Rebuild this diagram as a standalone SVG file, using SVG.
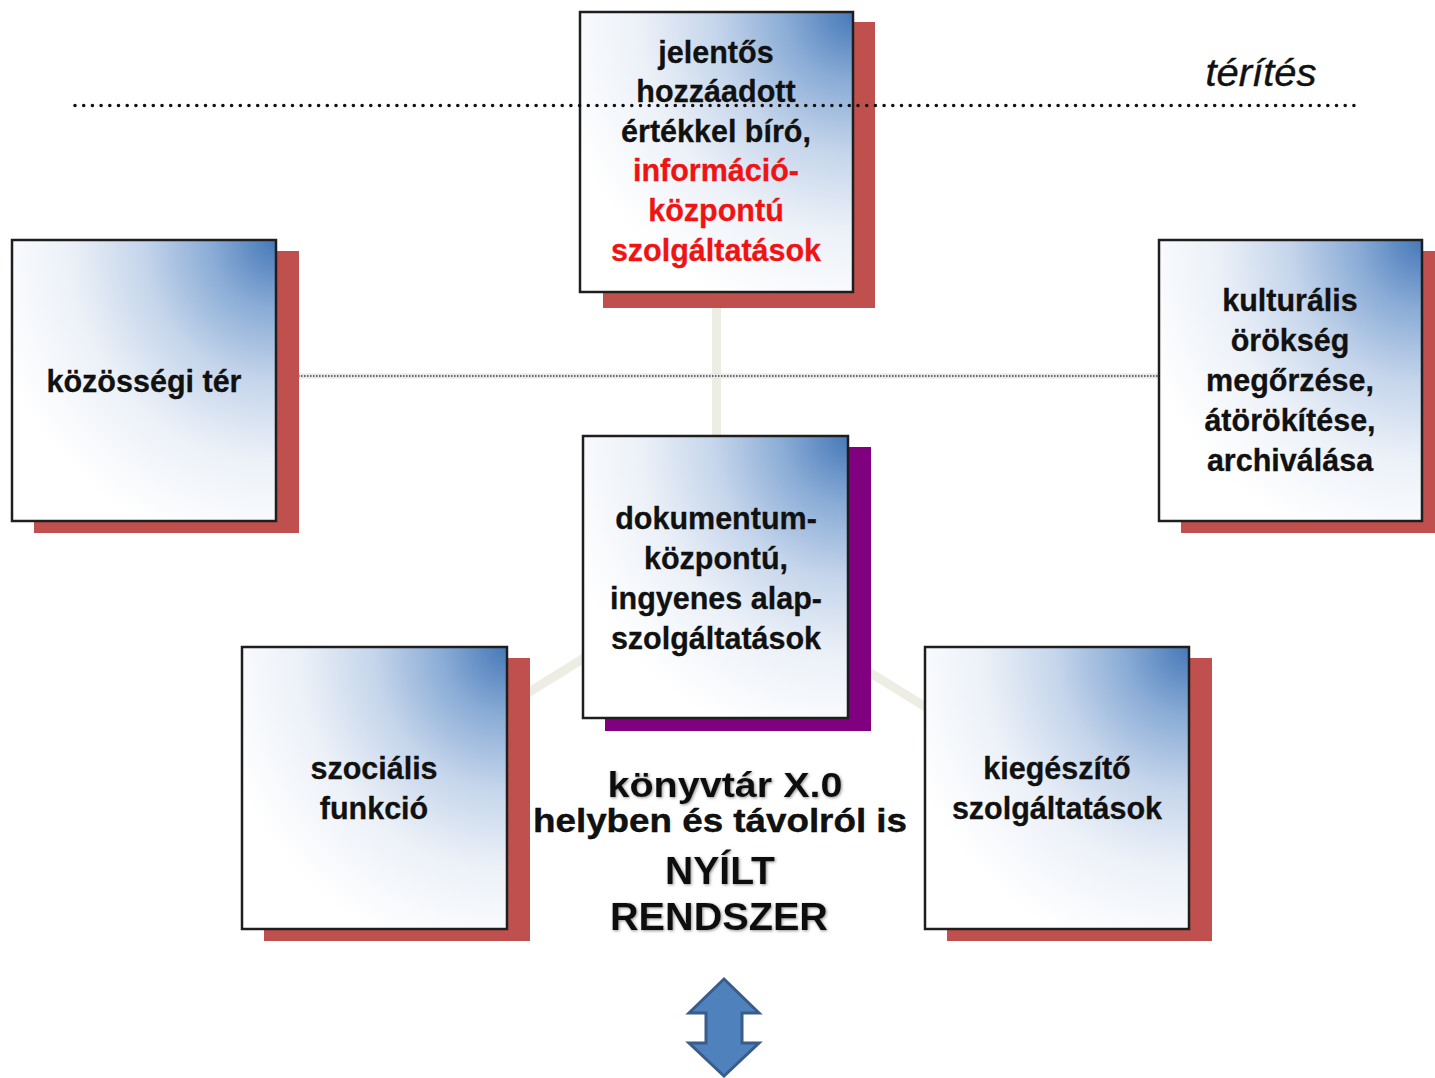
<svg xmlns="http://www.w3.org/2000/svg" width="1435" height="1078" viewBox="0 0 1435 1078">
<defs>
<radialGradient id="bg" cx="1" cy="0" r="1.12" fx="1" fy="0">
<stop offset="0" stop-color="#4678b8"/>
<stop offset="0.22" stop-color="#8aacd6"/>
<stop offset="0.45" stop-color="#c5d5eb"/>
<stop offset="0.7" stop-color="#ecf1f8"/>
<stop offset="1" stop-color="#ffffff"/>
</radialGradient>
<filter id="soft" x="-10%" y="-30%" width="120%" height="160%">
<feGaussianBlur in="SourceAlpha" stdDeviation="1.6" result="b"/>
<feOffset dx="1" dy="1" result="o"/>
<feFlood flood-color="#666" flood-opacity="0.7"/>
<feComposite in2="o" operator="in" result="s"/>
<feMerge><feMergeNode in="s"/><feMergeNode in="SourceGraphic"/></feMerge>
</filter>
</defs>
<style>
.box{fill:url(#bg);stroke:#1e1e1e;stroke-width:2.5}
.red{fill:#c0504d}
.pur{fill:#800080}
.t{font-family:"Liberation Sans",Arial,sans-serif;font-weight:bold;font-size:30.5px;fill:#111;text-anchor:middle;stroke:#111;stroke-width:0.3}
.r{fill:#ee1414;stroke:#ee1414}
.big{font-family:"Liberation Sans",Arial,sans-serif;font-weight:bold;fill:#111;text-anchor:middle}
.conn{stroke:#eeede3;stroke-width:9;fill:none}
</style>
<rect width="1435" height="1078" fill="#ffffff"/>
<g id="connectors">
<line class="conn" x1="716.5" y1="152" x2="716.5" y2="577"/>
<line class="conn" x1="715" y1="577" x2="374" y2="788"/>
<line class="conn" x1="715" y1="577" x2="1057" y2="788"/>
<line x1="298" y1="376" x2="1159" y2="376" stroke="#e6e6e6" stroke-width="5"/>
<line x1="298" y1="376" x2="1159" y2="376" stroke="#6a6a6a" stroke-width="2" stroke-dasharray="1.5 1.5"/>
</g>
<g id="node-top">
<rect class="red" x="603" y="22" width="272" height="286"/>
<rect class="box" x="580" y="12" width="273" height="280"/>
<text class="t" x="716" y="63">jelentős</text>
<text class="t" x="716" y="102">hozzáadott</text>
<text class="t" x="716" y="142">értékkel bíró,</text>
<text class="t r" x="716" y="181">információ-</text>
<text class="t r" x="716" y="221">központú</text>
<text class="t r" x="716" y="261">szolgáltatások</text>
</g>
<g id="node-left">
<rect class="red" x="34" y="251" width="265" height="282"/>
<rect class="box" x="12" y="240" width="264" height="281"/>
<text class="t" x="144" y="392">közösségi tér</text>
</g>
<g id="node-right">
<rect class="red" x="1181" y="251" width="254" height="282"/>
<rect class="box" x="1159" y="240" width="263" height="281"/>
<text class="t" x="1290" y="311">kulturális</text>
<text class="t" x="1290" y="351">örökség</text>
<text class="t" x="1290" y="391">megőrzése,</text>
<text class="t" x="1290" y="431">átörökítése,</text>
<text class="t" x="1290" y="471">archiválása</text>
</g>
<g id="node-center">
<rect class="pur" x="605" y="447" width="266" height="284"/>
<rect class="box" x="583" y="436" width="265" height="282"/>
<text class="t" x="716" y="529">dokumentum-</text>
<text class="t" x="716" y="569">központú,</text>
<text class="t" x="716" y="609">ingyenes alap-</text>
<text class="t" x="716" y="649">szolgáltatások</text>
</g>
<g id="node-bottom-left">
<rect class="red" x="264" y="658" width="266" height="283"/>
<rect class="box" x="242" y="647" width="265" height="282"/>
<text class="t" x="374" y="779">szociális</text>
<text class="t" x="374" y="819">funkció</text>
</g>
<g id="node-bottom-right">
<rect class="red" x="947" y="658" width="265" height="283"/>
<rect class="box" x="925" y="647" width="264" height="282"/>
<text class="t" x="1057" y="779">kiegészítő</text>
<text class="t" x="1057" y="819">szolgáltatások</text>
</g>
<g id="dotted-line">
<line x1="75" y1="105.5" x2="1358" y2="105.5" stroke="#111" stroke-width="3.6" stroke-linecap="round" stroke-dasharray="0 8.7"/>
</g>
<g id="label-terites">
<text x="1261" y="86" font-family="'Liberation Sans',Arial,sans-serif" font-style="italic" font-size="38" fill="#111" stroke="#111" stroke-width="0.4" text-anchor="middle" textLength="111" lengthAdjust="spacingAndGlyphs">térítés</text>
</g>
<g id="label-konyvtar">
<text class="big" x="725" y="797" font-size="35" textLength="235" lengthAdjust="spacingAndGlyphs" filter="url(#soft)">könyvtár X.0</text>
<text class="big" x="720" y="832" font-size="34" fill="#000" stroke="#000" stroke-width="0.4" textLength="374" lengthAdjust="spacingAndGlyphs">helyben és távolról is</text>
<text class="big" x="720" y="884" font-size="38" textLength="110" lengthAdjust="spacingAndGlyphs" filter="url(#soft)">NYÍLT</text>
<text class="big" x="719" y="930" font-size="38" textLength="218" lengthAdjust="spacingAndGlyphs" filter="url(#soft)">RENDSZER</text>
</g>
<g id="double-arrow">
<polygon points="724,979 759,1013 742,1013 742,1043 759,1043 724,1076 689,1043 706,1043 706,1013 689,1013" fill="#4f81bd" stroke="#385d8a" stroke-width="3" stroke-linejoin="miter"/>
</g>
</svg>
